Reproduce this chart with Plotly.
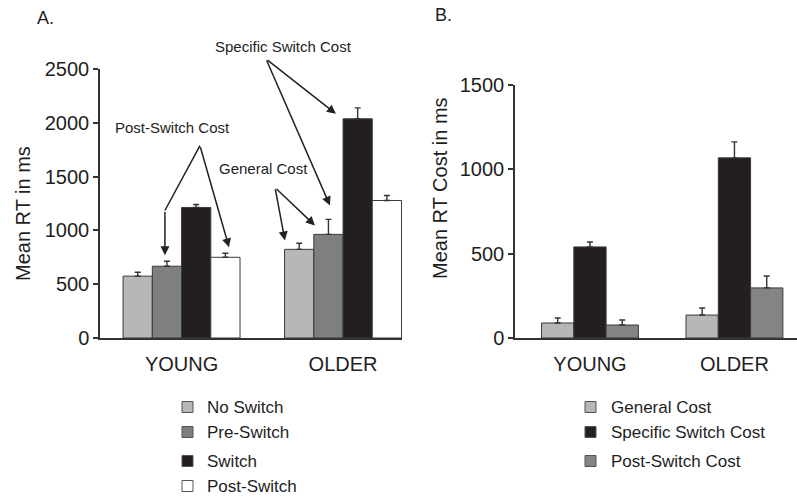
import plotly.graph_objects as go

# ---------------- data ----------------
groups = ["YOUNG", "OLDER"]

# Panel A: mean RT (ms)
a_series = ["No Switch", "Pre-Switch", "Switch", "Post-Switch"]
a_no_switch = [575, 824]
a_pre_switch = [667, 963]
a_switch = [1213, 2037]
a_post_switch = [750, 1278]
a_no_switch_err = [36, 56]
a_pre_switch_err = [46, 139]
a_switch_err = [28, 102]
a_post_switch_err = [37, 46]

# Panel B: mean RT cost (ms)
b_series = ["General Cost", "Specific Switch Cost", "Post-Switch Cost"]
b_general = [89, 136]
b_specific = [540, 1068]
b_post = [77, 297]
b_general_err = [30, 42]
b_specific_err = [29, 95]
b_post_err = [30, 71]

a_ticks = [0, 500, 1000, 1500, 2000, 2500]
b_ticks = [0, 500, 1000, 1500]

# ---------------- style ----------------
FONT = "Liberation Sans, Arial, sans-serif"
TXT = "#1e1e1e"
LINE = "#333333"
LIGHT = "#b6b7b9"
MID = "#7e7f81"
BLACK = "#231f20"
WHITE = "#ffffff"
MID_B = "#838486"

a_values = [a_no_switch, a_pre_switch, a_switch, a_post_switch]
a_errors = [a_no_switch_err, a_pre_switch_err, a_switch_err, a_post_switch_err]
a_colors = [LIGHT, MID, BLACK, WHITE]

b_values = [b_general, b_specific, b_post]
b_errors = [b_general_err, b_specific_err, b_post_err]
b_colors = [LIGHT, BLACK, MID_B]

fig = go.Figure()

a_width = 0.181
for i, (name, vals, errs, col) in enumerate(zip(a_series, a_values, a_errors, a_colors)):
    fig.add_trace(go.Bar(
        x=groups, y=vals, name=name, xaxis="x", yaxis="y",
        width=a_width, offset=-2 * a_width + i * a_width,
        marker=dict(color=col, line=dict(color="#3a3a3a", width=1)),
        error_y=dict(type="data", array=errs, arrayminus=[0] * len(errs), symmetric=False,
                     color=LINE, thickness=1.4, width=3),
        showlegend=False,
    ))

b_width = 0.2235
for i, (name, vals, errs, col) in enumerate(zip(b_series, b_values, b_errors, b_colors)):
    fig.add_trace(go.Bar(
        x=groups, y=vals, name=name, xaxis="x2", yaxis="y2",
        width=b_width, offset=-1.5 * b_width + i * b_width,
        marker=dict(color=col, line=dict(color="#3a3a3a", width=1)),
        error_y=dict(type="data", array=errs, arrayminus=[0] * len(errs), symmetric=False,
                     color=LINE, thickness=1.4, width=3),
        showlegend=False,
    ))

W, H = 797, 497
def px(x):
    return x / W
def py(y):
    return (H - y) / H

axis_common = dict(showgrid=False, zeroline=False, showline=True, linecolor=LINE, linewidth=1.5,
                   automargin=False, tickfont=dict(family=FONT, size=20, color=TXT))

fig.update_layout(
    width=W, height=H, autosize=False,
    margin=dict(l=0, r=0, t=0, b=0, pad=0, autoexpand=False),
    paper_bgcolor="white", plot_bgcolor="white",
    barmode="group",
    font=dict(family=FONT, color=TXT),
    xaxis=dict(domain=[px(100), px(402)], range=[-0.505, 1.365], anchor="y",
               type="category", ticks="", ticklabelstandoff=7, **axis_common),
    yaxis=dict(domain=[py(338), py(69)], range=[0, 2500], anchor="x",
               tickvals=a_ticks, ticks="outside", ticklen=5, tickcolor=LINE, tickwidth=1.5,
               **axis_common),
    xaxis2=dict(domain=[px(515), 1.0], range=[-0.519, 1.433], anchor="y2",
                type="category", ticks="", ticklabelstandoff=7, **axis_common),
    yaxis2=dict(domain=[py(338), py(85)], range=[0, 1500], anchor="x2",
                tickvals=b_ticks, ticks="outside", ticklen=5, tickcolor=LINE, tickwidth=1.5,
                **axis_common),
)

ann = []
def label(text, x, y, size, xanchor="center", angle=0):
    ann.append(dict(text=text, x=px(x), y=py(y), xref="paper", yref="paper",
                    xanchor=xanchor, yanchor="middle", textangle=angle, showarrow=False,
                    font=dict(size=size)))

# panel labels
label("A.", 35, 18, 18, "left")
label("B.", 433, 15, 18, "left")
# axis titles
label("Mean RT in ms", 23, 214, 20, angle=-90)
label("Mean RT Cost in ms", 440, 188, 20, angle=-90)
# cost labels
label("Post-Switch Cost", 172, 127, 15)
label("General Cost", 263, 168, 15)
label("Specific Switch Cost", 283, 47, 15)

def arrow(x, y, axv, ayv):
    return dict(text="", x=x, y=y, ax=axv, ay=ayv, xref="x", yref="y", axref="x", ayref="y",
                showarrow=True, arrowhead=2, arrowsize=1.2, arrowwidth=1.5, arrowcolor="#222222",
                standoff=0, startstandoff=0)

# Post-Switch Cost arrows
ann.append(arrow(-0.103, 768, -0.103, 1185))
ann.append(arrow(0.294, 843, 0.114, 1787))
# General Cost arrows
ann.append(arrow(0.640, 907, 0.579, 1398))
ann.append(arrow(0.826, 1046, 0.579, 1398))
# Specific Switch Cost arrows
ann.append(arrow(0.956, 2083, 0.523, 2593))
ann.append(arrow(0.919, 1231, 0.523, 2593))

shapes = [dict(type="line", xref="x", yref="y", x0=0.114, y0=1787, x1=-0.103, y1=1185,
               line=dict(color="#222222", width=1.5))]

# legends (manual, uneven row spacing as in the original)
def legend_block(names, colors, sq_x, text_x, rows):
    for name, col, ry in zip(names, colors, rows):
        shapes.append(dict(type="rect", xref="paper", yref="paper",
                           x0=px(sq_x), x1=px(sq_x + 11), y0=py(ry + 5.5), y1=py(ry - 5.5),
                           fillcolor=col, line=dict(color="#555555", width=1)))
        label(name, text_x, ry, 17, "left")

legend_block(a_series, a_colors, 182, 205, [407, 432, 461, 486])
legend_block(b_series, b_colors, 585, 609, [407, 432, 461])

fig.update_layout(annotations=ann, shapes=shapes)
fig.write_html("out.html", config={"displayModeBar": False},
               post_script="document.body.style.margin='0';document.body.style.overflow='hidden';")
